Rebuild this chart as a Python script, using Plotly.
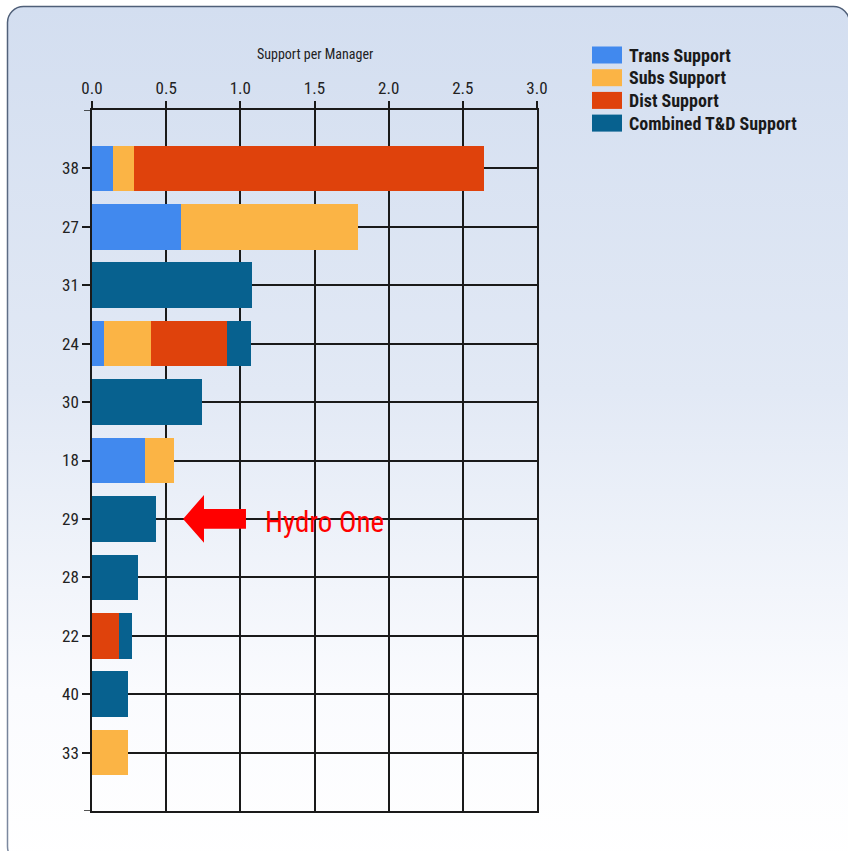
import base64
import plotly.graph_objects as go

# Managers (top to bottom) and support-per-manager components
managers = ["38", "27", "31", "24", "30", "18", "29", "28", "22", "40", "33"]
trans_support = [0.14, 0.60, 0.00, 0.08, 0.00, 0.36, 0.00, 0.00, 0.00, 0.00, 0.00]
subs_support = [0.14, 1.19, 0.00, 0.32, 0.00, 0.19, 0.00, 0.00, 0.00, 0.00, 0.245]
dist_support = [2.36, 0.00, 0.00, 0.51, 0.00, 0.00, 0.00, 0.00, 0.18, 0.00, 0.00]
combined_support = [0.00, 0.00, 1.08, 0.16, 0.74, 0.00, 0.43, 0.31, 0.09, 0.245, 0.00]

x_ticks = [0.0, 0.5, 1.0, 1.5, 2.0, 2.5, 3.0]
highlight_manager = "29"
highlight_label = "Hydro One"

series = [
    ("Trans Support", trans_support, "#4189ee"),
    ("Subs Support", subs_support, "#fbb445"),
    ("Dist Support", dist_support, "#df420c"),
    ("Combined T&D Support", combined_support, "#07618f"),
]

FONT = "Liberation Sans Narrow, Arial Narrow, Roboto Condensed, Roboto, sans-serif"
W, H = 848, 851
L, R, T, B = 92, 311, 110, 40
plot_w = W - L - R
plot_h = H - T - B

ypos = list(range(len(managers)))

fig = go.Figure()
for name, vals, color in series:
    fig.add_trace(go.Bar(
        y=ypos, x=vals, name=name, orientation="h",
        marker=dict(color=color, line=dict(width=0)),
        width=0.78, showlegend=False,
    ))

# Rounded panel background with a vertical gradient
svg = (
    f'<svg xmlns="http://www.w3.org/2000/svg" width="{W}" height="{H}">'
    '<defs><linearGradient id="g" x1="0" y1="0" x2="0" y2="1">'
    '<stop offset="0" stop-color="#d3def0"/>'
    '<stop offset="0.45" stop-color="#e2e9f5"/>'
    '<stop offset="0.80" stop-color="#fafbfe"/>'
    '<stop offset="1" stop-color="#ffffff"/>'
    '</linearGradient>'
    '<linearGradient id="s" x1="0" y1="0" x2="0" y2="1">'
    '<stop offset="0" stop-color="#4f5f78"/>'
    '<stop offset="1" stop-color="#7d8aa0"/>'
    '</linearGradient></defs>'
    '<rect x="7.5" y="6.5" width="842" height="856" rx="16" ry="16" '
    'fill="url(#g)" stroke="url(#s)" stroke-width="1.5"/>'
    '</svg>'
)
svg_uri = "data:image/svg+xml;base64," + base64.b64encode(svg.encode()).decode()

fig.add_layout_image(dict(
    source=svg_uri, xref="paper", yref="paper",
    x=-L / plot_w, y=1 + T / plot_h,
    sizex=W / plot_w, sizey=H / plot_h,
    xanchor="left", yanchor="top", sizing="stretch", layer="below",
))

# Short tick extensions at the top and bottom frame lines
for yv in (-1, len(managers)):
    fig.add_shape(type="line", xref="paper", yref="y",
                  x0=-8 / plot_w, x1=0, y0=yv, y1=yv,
                  line=dict(color="#1a1a1a", width=1.5))

# Block arrow pointing at the highlighted manager
hy = managers.index(highlight_manager)
tip, neck, tail = 0.614, 0.755, 1.038
head_h, shaft_h = 0.41, 0.17
path = (f"M {tip},{hy} L {neck},{hy - head_h} L {neck},{hy - shaft_h} "
        f"L {tail},{hy - shaft_h} L {tail},{hy + shaft_h} L {neck},{hy + shaft_h} "
        f"L {neck},{hy + head_h} Z")
fig.add_shape(type="path", path=path, xref="x", yref="y",
              fillcolor="#ff0000", line=dict(width=0))
fig.add_annotation(x=1.155, y=hy + 0.06, xref="x", yref="y", text=highlight_label,
                   showarrow=False, xanchor="left", yanchor="middle",
                   font=dict(family=FONT, size=29, color="#ff0000"))

# Axis title above the top axis
fig.add_annotation(x=0.5, y=1 + 56 / plot_h, xref="paper", yref="paper",
                   text="Support per Manager", showarrow=False,
                   xanchor="center", yanchor="middle",
                   font=dict(family=FONT, size=14, color="#222222"))

# Hand-drawn legend with wide swatches
lx = (592 - L) / plot_w
sw = 30 / plot_w
for i, (name, _, color) in enumerate(series):
    cy = 55 + i * 22.7
    y0 = 1 + (T - (cy - 8.5)) / plot_h
    y1 = 1 + (T - (cy + 8.5)) / plot_h
    fig.add_shape(type="rect", xref="paper", yref="paper",
                  x0=lx, x1=lx + sw, y0=y1, y1=y0,
                  fillcolor=color, line=dict(width=0))
    fig.add_annotation(x=(627 - L) / plot_w, y=1 + (T - cy) / plot_h,
                       xref="paper", yref="paper", text=f"<b>{name}</b>",
                       showarrow=False, xanchor="left", yanchor="middle",
                       font=dict(family=FONT, size=18, color="#1a1a1a"))

fig.update_layout(
    width=W, height=H,
    margin=dict(l=L, r=R, t=T, b=B, pad=0),
    barmode="stack",
    paper_bgcolor="rgba(0,0,0,0)",
    plot_bgcolor="#ffffff",
    showlegend=False,
    font=dict(family=FONT, size=17, color="#222222"),
    xaxis=dict(
        side="top", range=[0, 3.0], tickvals=x_ticks,
        ticktext=[f"{v:.1f}" for v in x_ticks],
        ticks="outside", ticklen=7, tickwidth=1.5, tickcolor="#1a1a1a",
        showgrid=True, gridcolor="#1a1a1a", gridwidth=1.5,
        showline=True, linecolor="#1a1a1a", linewidth=1.5, mirror=True,
        zeroline=False, tickfont=dict(family=FONT, size=17, color="#222222"),
        fixedrange=True,
    ),
    yaxis=dict(
        range=[len(managers), -1], tickvals=ypos, ticktext=managers,
        ticks="outside", ticklen=8, tickwidth=1.5, tickcolor="#1a1a1a",
        showgrid=True, gridcolor="#1a1a1a", gridwidth=1.5,
        showline=True, linecolor="#1a1a1a", linewidth=1.5, mirror=True,
        zeroline=False, tickfont=dict(family=FONT, size=17, color="#222222"),
        fixedrange=True,
    ),
)

fig.write_html("out.html")
